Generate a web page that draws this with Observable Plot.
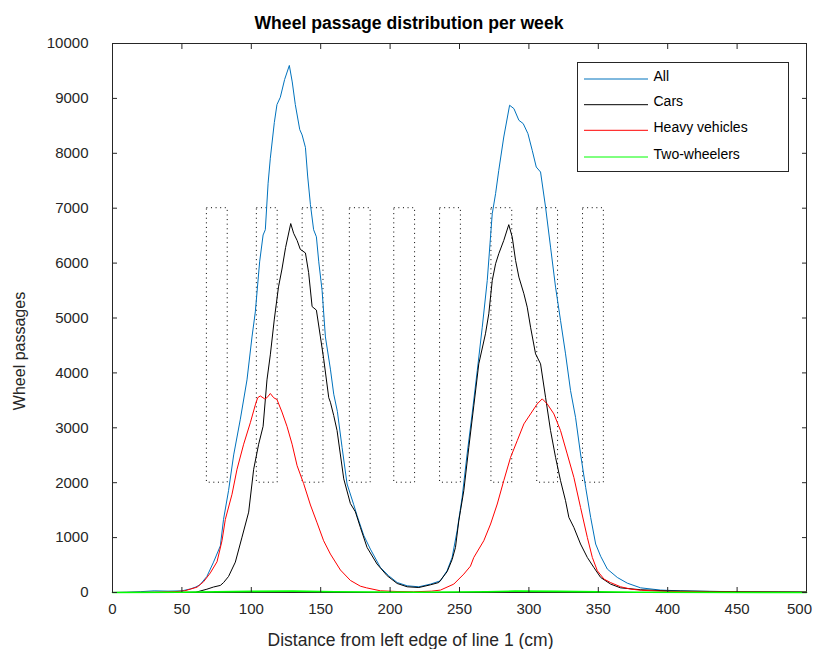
<!DOCTYPE html>
<html>
<head>
<meta charset="utf-8">
<script src="https://cdn.jsdelivr.net/npm/d3@7"></script>
<script src="https://cdn.jsdelivr.net/npm/@observablehq/plot@0.6"></script>
<style>
  body { margin: 0; background: #fff; }
  #wrap { position: relative; width: 813px; height: 649px; font-family: "Liberation Sans", Arial, sans-serif; color: #000; overflow: hidden; }
  #overlay { position: absolute; left: 0; top: 0; pointer-events: none; }
  #legend { position: absolute; left: 577px; top: 62px; width: 212px; height: 110px; box-sizing: border-box; border: 1px solid #262626; background: #fff; }
  #legend svg { position: absolute; left: 0; top: 0; }
</style>
</head>
<body>
<div id="wrap">
  <div id="chart"></div>
  <div id="legend"></div>
</div>
<script>
// ---- Data ----
const titleText = "Wheel passage distribution per week";
const xLabelText = "Distance from left edge of line 1 (cm)";
const yLabelText = "Wheel passages";

const seriesNames = ["All", "Cars", "Heavy vehicles", "Two-wheelers"];
const seriesColors = ["#0072BD", "#000000", "#FF0000", "#00FF00"];

const allX = [0, 10, 20, 30, 40, 50, 56, 60, 63, 68, 72.8, 77.7, 80, 83.6, 87.3, 92.1, 96.9, 100.5, 102.9, 106, 108.5, 110.1, 112.1, 113.7, 116.6, 118.5, 120.9, 124, 127.4, 129.5, 131.7, 134.9, 136.6, 139, 140.6, 142.6, 144.9, 146.9, 148.6, 151, 153.4, 157, 159.4, 162, 165.4, 169, 173.8, 176.2, 181, 185.8, 193, 199, 205.1, 212.3, 220.7, 229.1, 236.3, 241.1, 244.7, 248.3, 251.9, 255.5, 259.1, 262.8, 266.4, 270, 273.6, 276, 278.3, 281.9, 286.1, 289.2, 292.8, 295.9, 299.3, 302.4, 305.3, 308.4, 312, 315.6, 319.2, 322.8, 326.4, 330, 333.6, 337.2, 340.9, 344.5, 348.1, 351.7, 356.5, 363.7, 370.9, 380.5, 394.9, 409.3, 430, 460, 480, 500];
const allY = [0, 5, 15, 30, 25, 30, 64, 100, 140, 292, 553, 850, 1333, 1855, 2506, 3157, 3873, 4655, 5111, 6023, 6512, 6608, 7455, 7910, 8563, 8888, 9019, 9344, 9600, 9300, 8888, 8432, 8335, 8107, 7586, 7064, 6608, 6479, 6023, 5502, 4655, 4068, 3612, 3300, 2644, 1977, 1600, 1400, 1040, 790, 456, 305, 182, 122, 104, 153, 213, 400, 640, 1125, 1732, 2524, 3253, 4043, 4832, 5684, 6900, 7265, 7690, 8297, 8875, 8814, 8601, 8541, 8358, 8054, 7750, 7659, 7020, 6291, 5562, 4955, 4347, 3678, 3191, 2524, 1915, 1368, 883, 660, 427, 274, 170, 85, 44, 30, 20, 15, 12, 10];

const carsX = [0, 50, 60, 68, 72.8, 77.7, 80, 83.6, 88.5, 93.3, 98.1, 101.7, 105.3, 108.5, 111.3, 113.7, 116.6, 119.6, 122.1, 124.7, 128.4, 130.5, 133, 135.3, 139, 141.3, 143.8, 146.9, 149.8, 152.1, 155.8, 157, 159.4, 161.8, 166.6, 171.4, 175, 178.6, 183.4, 190.6, 197.9, 205.1, 212.3, 220.7, 229.1, 235.1, 241.1, 244.7, 247.1, 249.5, 250.7, 253.1, 256.7, 260.3, 263.9, 268.7, 271.1, 273.6, 276, 278.3, 281.9, 285.5, 288, 290.4, 292.8, 296.4, 298.8, 301.2, 304.8, 308.4, 312, 315.6, 319.2, 322.8, 326.4, 328.8, 332.4, 337.2, 342.1, 346.8, 351.7, 358.9, 366, 380.5, 400, 430, 460, 500];
const carsY = [0, 2, 5, 60, 100, 129, 180, 292, 553, 1008, 1464, 2245, 2701, 3027, 3873, 4329, 4980, 5567, 5892, 6284, 6720, 6543, 6413, 6251, 6185, 5828, 5208, 5144, 4655, 4263, 3548, 3465, 3222, 2949, 2070, 1620, 1470, 1185, 821, 518, 305, 164, 104, 91, 140, 182, 380, 600, 821, 1307, 1490, 1854, 2644, 3400, 4165, 4712, 5076, 5684, 5988, 6171, 6413, 6700, 6473, 6049, 5744, 5441, 5197, 4832, 4347, 4165, 3556, 2949, 2462, 2037, 1672, 1368, 1185, 883, 638, 456, 274, 153, 85, 50, 30, 20, 12, 8];

const heavyX = [0, 30, 45, 52, 60.9, 65.6, 70.5, 75.3, 78.9, 81.3, 86.1, 89.7, 94.5, 99.3, 102.9, 104.6, 106.5, 109.6, 111.3, 113.7, 116.1, 118.5, 122.1, 125.7, 129.4, 133, 137.7, 142.6, 147.4, 152.1, 157, 164.2, 171.4, 178.6, 183, 193, 205, 217, 230, 236.3, 245.9, 253.1, 257.9, 260.3, 267.5, 272.4, 277.2, 281.9, 286.8, 291.6, 296.4, 301.2, 306, 309.6, 313.2, 318, 322.8, 327.6, 332.4, 337.2, 342.1, 345.7, 349.3, 354.1, 358.9, 366.1, 373.3, 381, 400, 430, 500];
const heavyY = [0, 5, 15, 31, 97, 195, 357, 560, 943, 1333, 1789, 2245, 2701, 3092, 3417, 3548, 3580, 3528, 3548, 3625, 3548, 3515, 3287, 3027, 2701, 2310, 1984, 1594, 1269, 943, 700, 410, 220, 115, 85, 31, 18, 13, 25, 44, 153, 335, 480, 638, 943, 1247, 1612, 2037, 2462, 2766, 3071, 3253, 3435, 3527, 3435, 3253, 2949, 2524, 2097, 1550, 1003, 638, 396, 244, 180, 104, 62, 40, 20, 10, 5];

const twoX = [0, 50, 100, 130, 160, 220, 270, 290, 320, 380, 500];
const twoY = [0, 5, 20, 25, 15, 5, 15, 25, 20, 5, 0];

const boxStarts = [68, 104, 137, 171, 203, 236, 273, 306, 339];
const boxEnds = [83, 119, 152, 186, 218, 251, 288, 321, 354];
const boxBottom = 2000;
const boxTop = 7000;

const xTicks = [0, 50, 100, 150, 200, 250, 300, 350, 400, 450, 500];
const yTicks = [0, 1000, 2000, 3000, 4000, 5000, 6000, 7000, 8000, 9000, 10000];

// ---- Tables built from the arrays ----
const mk = (xs, ys, name) => xs.map((x, i) => ({x, y: ys[i], series: name}));
const allData = mk(allX, allY, seriesNames[0]);
const carsData = mk(carsX, carsY, seriesNames[1]);
const heavyData = mk(heavyX, heavyY, seriesNames[2]);
const twoData = mk(twoX, twoY, seriesNames[3]);
const boxes = boxStarts.map((s, i) => ({x1: s, x2: boxEnds[i], y1: boxBottom, y2: boxTop}));

const axisColor = "#262626";
const fontFam = '"Liberation Sans", Arial, sans-serif';
const xLabelTicks = xTicks.slice(0, -1);
const xLastTick = xTicks.slice(-1);

const chart = Plot.plot({
  width: 813,
  height: 649,
  marginTop: 43,
  marginRight: 7,
  marginBottom: 57,
  marginLeft: 112,
  x: {domain: [0, 500]},
  y: {domain: [0, 10000]},
  style: {fontFamily: fontFam, fontSize: "15px", color: axisColor, background: "transparent", overflow: "visible"},
  marks: [
    Plot.frame({stroke: axisColor, strokeWidth: 1}),
    Plot.rect(boxes, {x1: "x1", x2: "x2", y1: "y1", y2: "y2", fill: "none", stroke: "#000", strokeWidth: 1, strokeDasharray: "1 3.6"}),
    Plot.line(allData, {x: "x", y: "y", stroke: seriesColors[0], strokeWidth: 1}),
    Plot.line(carsData, {x: "x", y: "y", stroke: seriesColors[1], strokeWidth: 1}),
    Plot.line(heavyData, {x: "x", y: "y", stroke: seriesColors[2], strokeWidth: 1}),
    Plot.line(twoData, {x: "x", y: "y", stroke: seriesColors[3], strokeWidth: 1.6}),
    Plot.axisX({anchor: "bottom", ticks: xLabelTicks, tickSize: -5, tickPadding: 16, tickFormat: d => String(d), stroke: axisColor, fill: axisColor, label: null}),
    Plot.axisX({anchor: "bottom", ticks: xLastTick, tickSize: 0, tickPadding: 11, dx: -7, tickFormat: d => String(d), fill: axisColor, label: null}),
    Plot.axisX({anchor: "top", ticks: xTicks, tickSize: -5, tickFormat: () => "", stroke: axisColor, label: null}),
    Plot.axisY({anchor: "left", ticks: yTicks, tickSize: -5, tickPadding: 29, tickFormat: d => String(d), stroke: axisColor, fill: axisColor, label: null}),
    Plot.axisY({anchor: "right", ticks: yTicks, tickSize: -5, tickFormat: () => "", stroke: axisColor, label: null})
  ]
});
document.getElementById("chart").appendChild(chart);

// ---- Title and axis labels (overlay) ----
const ns = "http://www.w3.org/2000/svg";
const ov = document.createElementNS(ns, "svg");
ov.setAttribute("id", "overlay");
ov.setAttribute("width", 813);
ov.setAttribute("height", 649);
function addText(parent, txt, attrs) {
  const t = document.createElementNS(ns, "text");
  for (const k in attrs) t.setAttribute(k, attrs[k]);
  t.textContent = txt;
  parent.appendChild(t);
  return t;
}
addText(ov, titleText, {x: 409, y: 29, "text-anchor": "middle", "font-family": fontFam, "font-size": "17.6px", "font-weight": "bold", fill: "#000"});
addText(ov, xLabelText, {x: 410.5, y: 645.5, "text-anchor": "middle", "font-family": fontFam, "font-size": "17.5px", fill: axisColor});
addText(ov, yLabelText, {x: 0, y: 0, transform: "translate(25,351) rotate(-90)", "text-anchor": "middle", "font-family": fontFam, "font-size": "16px", fill: axisColor});
document.getElementById("wrap").appendChild(ov);

// ---- Legend ----
const legendRowY = [16, 41.7, 67.3, 94];
const lsvg = document.createElementNS(ns, "svg");
lsvg.setAttribute("width", 210);
lsvg.setAttribute("height", 108);
seriesNames.forEach((name, i) => {
  const ln = document.createElementNS(ns, "line");
  ln.setAttribute("x1", 6); ln.setAttribute("x2", 70);
  ln.setAttribute("y1", legendRowY[i]); ln.setAttribute("y2", legendRowY[i]);
  ln.setAttribute("stroke", seriesColors[i]);
  ln.setAttribute("stroke-width", 1);
  lsvg.appendChild(ln);
  addText(lsvg, name, {x: 75.5, y: legendRowY[i] + 1.5, "font-size": "14px", "font-family": fontFam, fill: "#000"});
});
document.getElementById("legend").appendChild(lsvg);
</script>
</body>
</html>
